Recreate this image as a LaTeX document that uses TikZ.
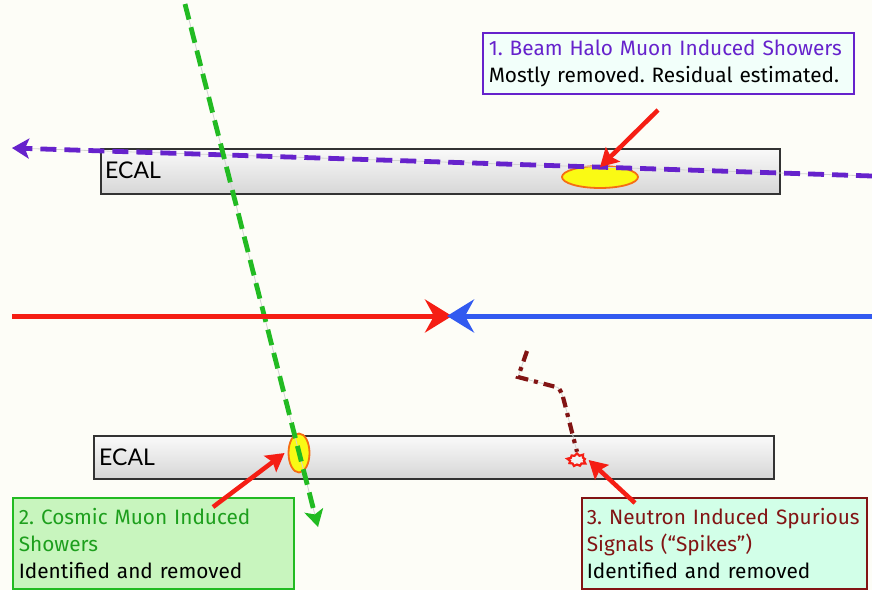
\documentclass[tikz,border=0pt]{standalone}
\usepackage{fontspec}
\setmainfont{Fira Sans}
\newfontfamily\ecalfont{Lato}
\usepackage{tikz}
\usetikzlibrary{positioning,arrows.meta,shadows,shapes.geometric,shapes.symbols}
\definecolor{PaperWhite}{RGB}{253,253,247}
\definecolor{HaloPurple}{RGB}{102,34,204}
\definecolor{CosmicGreen}{RGB}{34,187,34}
\definecolor{BeamRed}{RGB}{245,30,20}
\definecolor{BeamBlue}{RGB}{50,90,240}
\definecolor{NeutronRed}{RGB}{130,20,20}
\definecolor{ShowerYellow}{RGB}{250,250,20}
\definecolor{ShowerOrange}{RGB}{245,110,20}
\definecolor{BoxCyan}{RGB}{242,255,250}
\definecolor{BoxGreen}{RGB}{200,245,190}
\definecolor{BoxMint}{RGB}{210,255,232}
\frenchspacing

\begin{document}
\begin{tikzpicture}[
x=1pt, y=-1pt,
font=\fontsize{20.8}{27}\selectfont,
ecal/.style={draw=black!80, line width=1.6pt, top color=gray!4, bottom color=gray!32, drop shadow={shadow xshift=1.5pt, shadow yshift=-1.5pt, opacity=0.4}, anchor=north west, inner sep=0pt},
ecallabel/.style={font=\ecalfont\fontsize{23}{25}\selectfont, anchor=west, inner sep=0pt},
shower/.style={ellipse, draw=ShowerOrange, line width=1.8pt, fill=ShowerYellow, inner sep=0pt},
track/.style={line width=4.8pt, dash pattern=on 16pt off 8pt},
underlay/.style={line width=0.8pt, draw=gray!35},
beam/.style={line width=5pt, -{Stealth[length=27pt, width=33pt, inset=9pt]}},
callout/.style={draw=BeamRed, line width=4.5pt, -{Stealth[length=18pt, width=20pt, inset=3pt]}},
infobox/.style={draw, line width=1.6pt, anchor=north west, align=left, inner xsep=6pt, inner ysep=5pt}
]
\useasboundingbox[fill=PaperWhite] (0,0) rectangle (872,590);

% calorimeter slabs
\node[ecal, minimum width=679pt, minimum height=45pt] (ecaltop) at (100,148) {};
\node[ecal, minimum width=680pt, minimum height=43pt] (ecalbot) at (93,435) {};
\node[ecallabel] at ([xshift=5pt,yshift=1pt]ecaltop.west) {ECAL};
\node[ecallabel] at ([xshift=6pt]ecalbot.west) {ECAL};

% deposits
\node[shower, minimum width=76pt, minimum height=22pt] (halo) at (600,177) {};
\node[shower, minimum width=21pt, minimum height=39pt] (cosmic) at (299,453) {};
\node[starburst, starburst points=9, starburst point height=3pt, draw=BeamRed, line width=2.2pt, fill=gray!10, minimum width=20pt, minimum height=15pt, inner sep=0pt] (spike) at (577,460) {};

% tracks
\coordinate (halostart) at (872,176);
\coordinate (haloend) at (12,148);
\coordinate (cosmicstart) at (185,4);
\coordinate (cosmicend) at (318,527);
\draw[underlay] (halostart) -- (haloend);
\draw[track, draw=HaloPurple, -{Stealth[length=17pt, width=20pt, inset=4pt]}] (halostart) -- (haloend);
\draw[underlay] (cosmicstart) -- (cosmicend);
\draw[track, draw=CosmicGreen, -{Stealth[length=17pt, width=19pt, inset=4pt]}] (cosmicstart) -- (cosmicend);

\coordinate (n1) at (527,351);
\coordinate (n2) at (518,377);
\coordinate (n3) at (556,387);
\coordinate (n4) at (563,397);
\draw[underlay] (n1) -- (n2) -- (n3) to[out=10,in=-80] (n4) -- (spike.north);
\draw[draw=NeutronRed, line width=4.2pt, dash pattern=on 11pt off 6pt on 4pt off 6pt] (n1) -- (n2) -- (n3) to[out=10,in=-80] (n4) -- (spike.north);

% colliding beams
\coordinate (beamleft) at (12,316);
\coordinate (beamright) at (872,316);
\coordinate (ipred) at (452,316);
\coordinate (ipblue) at (447,316);
\draw[beam, draw=BeamRed, fill=BeamRed] (beamleft) -- (ipred);
\draw[beam, draw=BeamBlue, fill=BeamBlue] (beamright) -- (ipblue);

% explanations
\node[infobox, draw=HaloPurple, fill=BoxCyan, text width=359pt, minimum height=61pt] (note1) at (482,32)
  {\textcolor{HaloPurple}{1. Beam Halo Muon Induced Showers}\\Mostly removed. Residual estimated.};
\node[infobox, draw=CosmicGreen, fill=BoxGreen, text width=269pt, minimum height=91pt] (note2) at (12,497)
  {\textcolor{CosmicGreen!85!black}{2. Cosmic Muon Induced}\\\textcolor{CosmicGreen!85!black}{Showers}\\Identified and removed};
\node[infobox, draw=NeutronRed, fill=BoxMint, inner xsep=5pt, text width=275pt, minimum height=91pt] (note3) at (581,497)
  {\textcolor{NeutronRed}{3. Neutron Induced Spurious}\\\textcolor{NeutronRed}{Signals (``Spikes'')}\\Identified and removed};

\coordinate (tail1) at (658,110);
\coordinate (tail2) at (213,507);
\coordinate (tail3) at (635,503);
\draw[callout] (tail1) -- ([yshift=-2pt]halo.north);
\draw[callout] (tail2) -- ([xshift=-3pt]cosmic.west);
\draw[callout] (tail3) -- ([xshift=3pt]spike.east);
\end{tikzpicture}
\end{document}
